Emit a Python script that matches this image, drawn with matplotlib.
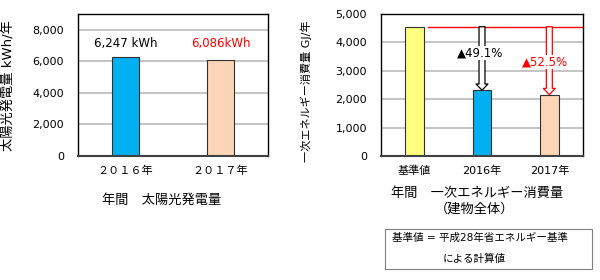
"""
Annual solar generation and primary energy consumption charts
"""
import matplotlib
matplotlib.use("Agg")
from matplotlib import pyplot as plt
from matplotlib.patches import Rectangle

plt.rcParams['font.family'] = ['DejaVu Sans', 'Noto Sans CJK JP']

# left chart: solar generation
pv_years = ['２０１６年', '２０１７年']
pv_values = [6247, 6086]
pv_labels = ['6,247 kWh', '6,086kWh']
pv_yticks = [0, 2000, 4000, 6000, 8000]

# right chart: primary energy consumption
en_cats = ['基準値', '2016年', '2017年']
en_values = [4550, 2316, 2161]
en_labels = ['▲49.1%', '▲52.5%']
en_yticks = [0, 1000, 2000, 3000, 4000, 5000]

BLUE = '#00B0F0'
PEACH = '#FBD5B5'
YELLOW = '#FFFF80'
RED = '#FF0000'
GRID = '#BFBFBF'

fig = plt.figure(figsize=(6, 2.8), dpi=100)


def style_axes(ax, yticks):
    ax.set_yticks(yticks)
    ax.set_yticklabels([f'{t:,}' for t in yticks])
    ax.tick_params(length=0, labelsize=8)
    ax.tick_params(axis='y', pad=10)
    ax.tick_params(axis='x', pad=7)
    ax.yaxis.grid(True, color=GRID, linewidth=1.3)
    ax.set_axisbelow(True)
    for s in ax.spines.values():
        s.set_color('black')
        s.set_linewidth(1)
    ax.spines['bottom'].set_color('#404040')
    ax.spines['bottom'].set_linewidth(1.5)


# ---- left chart
ax1 = fig.add_axes([78 / 600, 1 - 156 / 280, 190 / 600, 142 / 280])
ax1.bar(range(len(pv_values)), pv_values, width=0.28,
        color=[BLUE, PEACH], edgecolor='#303030', linewidth=0.8)
ax1.set_xlim(-0.5, 1.5)
ax1.set_ylim(0, 9000)
ax1.set_xticks(range(len(pv_years)))
ax1.set_xticklabels(pv_years)
style_axes(ax1, pv_yticks)
for i, (lab, col) in enumerate(zip(pv_labels, ['black', RED])):
    ax1.text(i, 7150, lab, ha='center', va='center', fontsize=8.5, color=col)

fig.text(9 / 600, 1 - 86 / 280, '太陽光発電量 kWh/年', rotation=90,
         ha='center', va='center', fontsize=9.5)
fig.text(162 / 600, 1 - 200 / 280, '年間　太陽光発電量',
         ha='center', va='center', fontsize=9.5)

# ---- right chart
ax2 = fig.add_axes([381 / 600, 1 - 156 / 280, 202 / 600, 142 / 280])
ax2.bar(range(len(en_values)), en_values, width=0.28,
        color=[YELLOW, BLUE, PEACH], edgecolor='#303030', linewidth=0.8)
ax2.set_xlim(-0.5, 2.5)
ax2.set_ylim(0, 5000)
ax2.set_xticks(range(len(en_cats)))
ax2.set_xticklabels(en_cats)
style_axes(ax2, en_yticks)

base = en_values[0]
ax2.plot([0.2, 2.5], [base, base], color=RED, linewidth=1, clip_on=False)
for i, col in [(1, 'black'), (2, RED)]:
    ax2.annotate('', xy=(i, en_values[i]), xytext=(i, base),
                 arrowprops=dict(arrowstyle='simple,head_width=0.86,head_length=0.45,tail_width=0.43',
                                 fc='white', ec=col, lw=0.9, mutation_scale=10,
                                 shrinkA=0, shrinkB=0), zorder=3)
box = dict(fc='white', ec='none', pad=0.6)
ax2.text(0.98, 3630, en_labels[0], ha='center', va='center', fontsize=8.5,
         color='black', bbox=box, zorder=5)
ax2.text(1.94, 3310, en_labels[1], ha='center', va='center', fontsize=8.5,
         color=RED, bbox=box, zorder=5)

fig.text(306 / 600, 1 - 91 / 280, '一次エネルギー消費量 GJ/年', rotation=90,
         ha='center', va='center', fontsize=8)
fig.text(477 / 600, 1 - 193 / 280, '年間　一次エネルギー消費量',
         ha='center', va='center', fontsize=9.5)
fig.text(475 / 600, 1 - 209 / 280, '（建物全体）',
         ha='center', va='center', fontsize=9.5)

# note box
fig.patches.append(Rectangle((385 / 600, 1 - 269 / 280), 207 / 600, 40 / 280,
                             transform=fig.transFigure, fill=False,
                             edgecolor='#808080', linewidth=0.8))
fig.text(392 / 600, 1 - 238 / 280, '基準値 = 平成28年省エネルギー基準',
         ha='left', va='center', fontsize=7.6)
fig.text(443 / 600, 1 - 259 / 280, 'による計算値',
         ha='left', va='center', fontsize=7.6)

fig.savefig('out.png', dpi=100)
